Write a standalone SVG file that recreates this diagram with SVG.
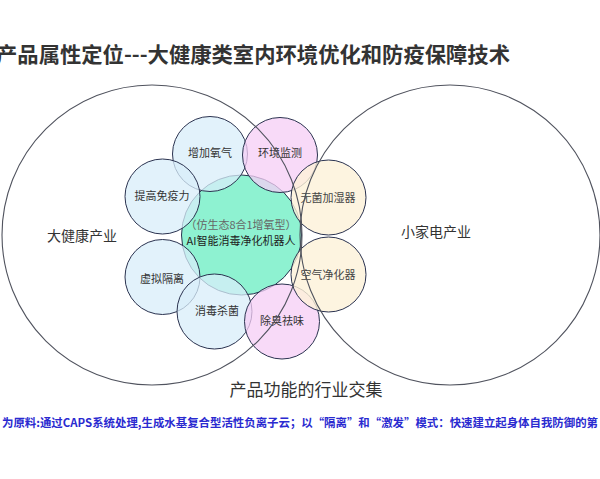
<svg xmlns="http://www.w3.org/2000/svg" width="600" height="479" viewBox="0 0 600 479">
<style>
text{font-family:"Noto Sans CJK SC","Noto Sans",sans-serif;text-anchor:middle;fill:#333}
.big{fill:none;stroke:#50535e;stroke-width:1.1}
.sm{stroke:#2b3350;stroke-width:1}
.blue{fill:#d8eef9;fill-opacity:0.75}
.pink{fill:#f5cdf5;fill-opacity:0.75}
.cream{fill:#fcf1d8;fill-opacity:0.8}
.green{fill:#72efc6;fill-opacity:0.8}
.lbl{font-size:11px}
.ser{font-family:"Noto Sans CJK SC",serif;font-size:11px;fill:#444}
</style>
<rect width="600" height="479" fill="#fff"/>
<text x="-4" y="62" textLength="514" lengthAdjust="spacingAndGlyphs" style="text-anchor:start;font-size:21px;font-weight:bold;fill:#333">产品属性定位---大健康类室内环境优化和防疫保障技术</text>

<g id="center">
<circle class="sm green" cx="241.5" cy="235" r="60"/>
<text x="241" y="229" style="font-size:11px;fill:#666">（仿生态8合1增氧型）</text>
<text x="241" y="245" style="font-size:11px;fill:#222">AI智能消毒净化机器人</text>
</g>
<g id="n-zengjia"><circle class="sm blue" cx="210" cy="154" r="37.5"/><text class="lbl" x="210" y="157">增加氧气</text></g>
<g id="n-tigao"><circle class="sm blue" cx="162.5" cy="196.5" r="37.5"/><text class="lbl" x="162" y="200">提高免疫力</text></g>
<g id="n-xuni"><circle class="sm blue" cx="162.5" cy="277" r="37.5"/><text class="lbl" x="162" y="283">虚拟隔离</text></g>
<g id="n-xiaodu"><circle class="sm blue" cx="214.5" cy="311.5" r="37.5"/><text class="lbl" x="217" y="315">消毒杀菌</text></g>
<g id="n-huanjing"><circle class="sm pink" cx="280" cy="155" r="37.5"/><text class="lbl" x="280" y="157">环境监测</text></g>
<g id="n-chuchou"><circle class="sm pink" cx="282" cy="321.5" r="37.5"/><text class="lbl" x="282" y="325">除臭祛味</text></g>
<g id="n-wujun"><circle class="sm cream" cx="328.5" cy="197.5" r="37.5"/><text class="ser" x="328" y="202">无菌加湿器</text></g>
<g id="n-kongqi"><circle class="sm cream" cx="328.5" cy="274.5" r="37.5"/><text class="ser" x="328" y="279">空气净化器</text></g>

<g id="left-circle"><circle class="big" cx="152" cy="235" r="150"/><text x="82" y="241" style="font-size:14px">大健康产业</text></g>
<g id="right-circle"><circle class="big" cx="450" cy="235" r="150"/><text x="436" y="237" style="font-size:14px">小家电产业</text></g>

<text x="306" y="396" style="font-size:17px;fill:#333">产品功能的行业交集</text>
<text x="2" y="427" textLength="596" lengthAdjust="spacingAndGlyphs" style="text-anchor:start;font-size:11.5px;font-weight:bold;fill:#2a2ad0">为原料:通过CAPS系统处理,生成水基复合型活性负离子云；以“隔离”和“激发”模式：快速建立起身体自我防御的第</text>
</svg>
